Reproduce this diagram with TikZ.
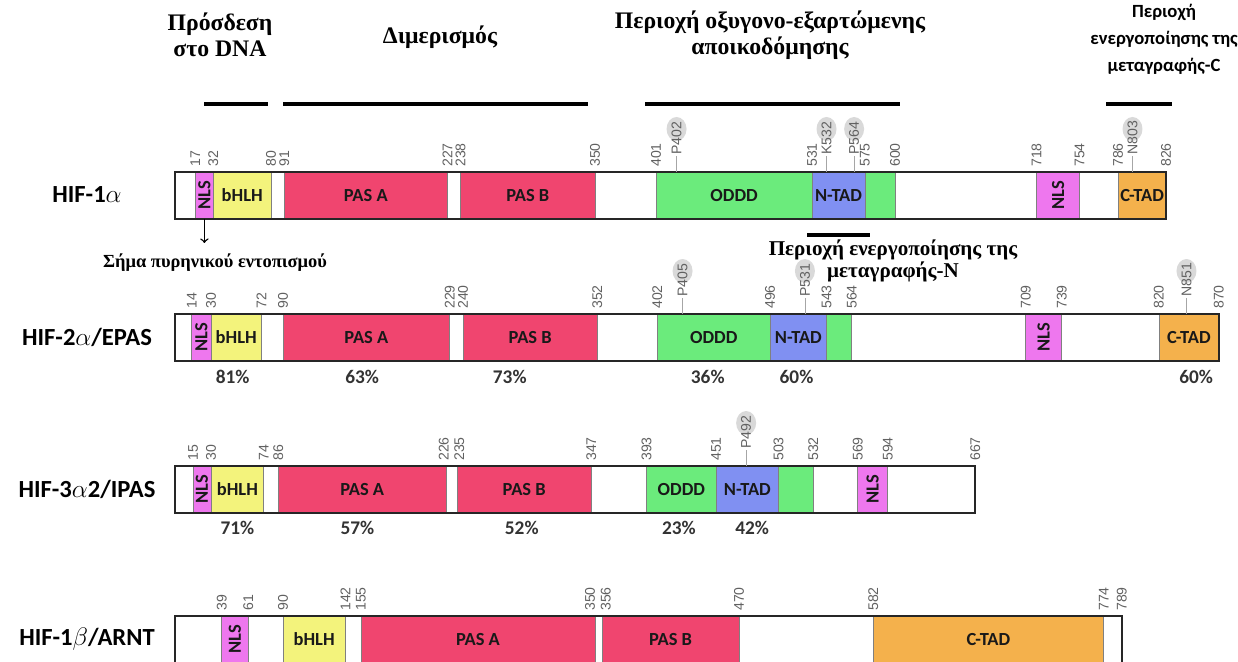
\documentclass[tikz,border=0pt]{standalone}
\usepackage{fontspec}
\setmainfont{Liberation Serif}
\newfontfamily\calib{Carlito}
\newfontfamily\arial{Liberation Sans}
\definecolor{pascol}{HTML}{F0456F}
\definecolor{bhlhcol}{HTML}{F3F37C}
\definecolor{nlscol}{HTML}{EE77EE}
\definecolor{oddcol}{HTML}{6BEB7C}
\definecolor{ntadcol}{HTML}{8090F2}
\definecolor{ctadcol}{HTML}{F4B14C}
\begin{document}
\begin{tikzpicture}[x=0.02cm,y=-0.02cm,
  prot/.style={draw=black!85,line width=1.3pt},
  dom/.style={draw=black!50,line width=0.4pt},
  dlab/.style={font=\calib\bfseries\fontsize{10.5}{12}\selectfont,text=black!90,inner sep=0pt},
  nlslab/.style={dlab,rotate=90},
  num/.style={font=\arial\fontsize{8}{9}\selectfont,text=black!62,rotate=90,anchor=west,inner sep=0.5pt},
  sitebg/.style={fill=black!15},
  siteline/.style={draw=black!35,line width=0.4pt},
  pct/.style={font=\calib\bfseries\fontsize{11}{12}\selectfont,text=black!80},
  plab/.style={font=\calib\bfseries\fontsize{14}{16}\selectfont},
  hdr/.style={font=\bfseries\fontsize{13.5}{14.5}\selectfont,align=center},
  bar/.style={line width=2pt}]
\useasboundingbox (0,0) rectangle (1238,662);

%headings
\node[hdr] (hdna) at (220,35) {Πρόσδεση\\στο DNA};
\node[hdr] (hdim) at (440,37) {Διμερισμός};
\node[hdr] (hodd) at (770,35) {Περιοχή οξυγονο-εξαρτώμενης\\αποικοδόμησης};
\node[font=\calib\bfseries\fontsize{10.6}{15.3}\selectfont,align=center] (hctad) at (1164,39) {Περιοχή\\ενεργοποίησης της\\μεταγραφής-C};
\node[font=\bfseries\fontsize{12}{12.5}\selectfont,align=center] (hntad) at (893,261) {Περιοχή ενεργοποίησης της\\μεταγραφής-N};
\node[font=\bfseries\fontsize{10.5}{13}\selectfont] (hsig) at (215,263) {Σήμα πυρηνικού εντοπισμού};

%bars
\draw[bar] (204,104) -- (268,104);
\draw[bar] (283,104) -- (588,104);
\draw[bar] (645,104) -- (900,104);
\draw[bar] (1106,104) -- (1172,104);
\draw[bar] (807,235) -- (870,235);

%protein names
\node[plab] (hif1a) at (87,195) {HIF-1$\alpha$};
\node[plab] (hif2a) at (87,337) {HIF-2$\alpha$/EPAS};
\node[plab] (hif3a) at (87,489) {HIF-3$\alpha$2/IPAS};
\node[plab] (hif1b) at (87,639) {HIF-1$\beta$/ARNT};

%HIF-1a
\begin{scope}[shift={(175,172)},x=0.024cm]
 \draw[dom,fill=nlscol] (17,0) rectangle (32,47);
 \draw[dom,fill=bhlhcol] (32,0) rectangle (80,47);
 \draw[dom,fill=pascol] (91,0) rectangle (227,47);
 \draw[dom,fill=pascol] (238,0) rectangle (350,47);
 \draw[dom,fill=oddcol] (401,0) rectangle (600,47);
 \draw[dom,fill=ntadcol] (531,0) rectangle (575,47);
 \draw[dom,fill=nlscol] (718,0) rectangle (754,47);
 \draw[dom,fill=ctadcol] (786,0) rectangle (826,47);
 \draw[prot] (0,0) rectangle (826,47);

 \node[nlslab] (a1nls) at (24.5,23.5) {NLS};
 \node[dlab] (a1bhlh) at (56,23.5) {bHLH};
 \node[dlab] (a1pasa) at (159,23.5) {PAS A};
 \node[dlab] (a1pasb) at (294,23.5) {PAS B};
 \node[dlab] (a1oddd) at (466,23.5) {ODDD};
 \node[dlab] (a1ntad) at (553,23.5) {N-TAD};
 \node[nlslab] (a1nls2) at (736,23.5) {NLS};
 \node[dlab] (a1ctad) at (806,23.5) {C-TAD};

 \node[num] (a1n17) at (17,-4) {17};
 \node[num] (a1n32) at (32,-4) {32};
 \node[num] (a1n80) at (80,-4) {80};
 \node[num] (a1n91) at (91,-4) {91};
 \node[num] (a1n227) at (227,-4) {227};
 \node[num] (a1n238) at (238,-4) {238};
 \node[num] (a1n350) at (350,-4) {350};
 \node[num] (a1n401) at (401,-4) {401};
 \node[num] (a1n531) at (531,-4) {531};
 \node[num] (a1n575) at (575,-4) {575};
 \node[num] (a1n600) at (600,-4) {600};
 \node[num] (a1n718) at (718,-4) {718};
 \node[num] (a1n754) at (754,-4) {754};
 \node[num] (a1n786) at (786,-4) {786};
 \node[num] (a1n826) at (826,-4) {826};

 \fill[sitebg] (418,-43) ellipse [x radius=0.2cm,y radius=0.24cm];
 \fill[sitebg] (543,-43) ellipse [x radius=0.2cm,y radius=0.24cm];
 \fill[sitebg] (566,-43) ellipse [x radius=0.2cm,y radius=0.24cm];
 \fill[sitebg] (798,-43) ellipse [x radius=0.2cm,y radius=0.24cm];
 \node[num] (a1p402) at (418,-16) {P402};
 \node[num] (a1k532) at (543,-16) {K532};
 \node[num] (a1p564) at (566,-16) {P564};
 \node[num] (a1n803) at (798,-16) {N803};
 \draw[siteline] (a1p402.west) -- ++(0,16);
 \draw[siteline] (a1k532.west) -- ++(0,16);
 \draw[siteline] (a1p564.west) -- ++(0,16);
 \draw[siteline] (a1n803.west) -- ++(0,16);

 \coordinate (a1nlsb) at (24.5,47);
 \coordinate (a1nlse) at (24.5,71);
 \draw[->,line width=0.8pt] (a1nlsb) -- (a1nlse);
\end{scope}

%HIF-2a
\begin{scope}[shift={(175,314)},x=0.024cm]
 \draw[dom,fill=nlscol] (14,0) rectangle (30,47);
 \draw[dom,fill=bhlhcol] (30,0) rectangle (72,47);
 \draw[dom,fill=pascol] (90,0) rectangle (229,47);
 \draw[dom,fill=pascol] (240,0) rectangle (352,47);
 \draw[dom,fill=oddcol] (402,0) rectangle (564,47);
 \draw[dom,fill=ntadcol] (496,0) rectangle (543,47);
 \draw[dom,fill=nlscol] (709,0) rectangle (739,47);
 \draw[dom,fill=ctadcol] (820,0) rectangle (870,47);
 \draw[prot] (0,0) rectangle (870,47);

 \node[nlslab] (a2nls) at (22,23.5) {NLS};
 \node[dlab] (a2bhlh) at (51,23.5) {bHLH};
 \node[dlab] (a2pasa) at (159.5,23.5) {PAS A};
 \node[dlab] (a2pasb) at (296,23.5) {PAS B};
 \node[dlab] (a2oddd) at (449,23.5) {ODDD};
 \node[dlab] (a2ntad) at (519.5,23.5) {N-TAD};
 \node[nlslab] (a2nls2) at (724,23.5) {NLS};
 \node[dlab] (a2ctad) at (845,23.5) {C-TAD};

 \node[num] (a2n14) at (14,-4) {14};
 \node[num] (a2n30) at (30,-4) {30};
 \node[num] (a2n72) at (72,-4) {72};
 \node[num] (a2n90) at (90,-4) {90};
 \node[num] (a2n229) at (229,-4) {229};
 \node[num] (a2n240) at (240,-4) {240};
 \node[num] (a2n352) at (352,-4) {352};
 \node[num] (a2n402) at (402,-4) {402};
 \node[num] (a2n496) at (496,-4) {496};
 \node[num] (a2n543) at (543,-4) {543};
 \node[num] (a2n564) at (564,-4) {564};
 \node[num] (a2n709) at (709,-4) {709};
 \node[num] (a2n739) at (739,-4) {739};
 \node[num] (a2n820) at (820,-4) {820};
 \node[num] (a2n870) at (870,-4) {870};

 \fill[sitebg] (423,-43) ellipse [x radius=0.2cm,y radius=0.24cm];
 \fill[sitebg] (525,-43) ellipse [x radius=0.2cm,y radius=0.24cm];
 \fill[sitebg] (843,-43) ellipse [x radius=0.2cm,y radius=0.24cm];
 \node[num] (a2p405) at (423,-16) {P405};
 \node[num] (a2p531) at (525,-16) {P531};
 \node[num] (a2n851) at (843,-16) {N851};
 \draw[siteline] (a2p405.west) -- ++(0,16);
 \draw[siteline] (a2p531.west) -- ++(0,16);
 \draw[siteline] (a2n851.west) -- ++(0,16);

 \node[pct] (a2c1) at (48,63) {81\%};
 \node[pct] (a2c2) at (156,63) {63\%};
 \node[pct] (a2c3) at (279,63) {73\%};
 \node[pct] (a2c4) at (444,63) {36\%};
 \node[pct] (a2c5) at (518,63) {60\%};
 \node[pct] (a2c6) at (851,63) {60\%};
\end{scope}

%HIF-3a
\begin{scope}[shift={(175,466)},x=0.024cm]
 \draw[dom,fill=nlscol] (15,0) rectangle (30,47);
 \draw[dom,fill=bhlhcol] (30,0) rectangle (74,47);
 \draw[dom,fill=pascol] (86,0) rectangle (226,47);
 \draw[dom,fill=pascol] (235,0) rectangle (347,47);
 \draw[dom,fill=oddcol] (393,0) rectangle (532,47);
 \draw[dom,fill=ntadcol] (451,0) rectangle (503,47);
 \draw[dom,fill=nlscol] (569,0) rectangle (594,47);
 \draw[prot] (0,0) rectangle (667,47);

 \node[nlslab] (a3nls) at (22.5,23.5) {NLS};
 \node[dlab] (a3bhlh) at (52,23.5) {bHLH};
 \node[dlab] (a3pasa) at (156,23.5) {PAS A};
 \node[dlab] (a3pasb) at (291,23.5) {PAS B};
 \node[dlab] (a3oddd) at (422,23.5) {ODDD};
 \node[dlab] (a3ntad) at (477,23.5) {N-TAD};
 \node[nlslab] (a3nls2) at (581.5,23.5) {NLS};

 \node[num] (a3n15) at (15,-4) {15};
 \node[num] (a3n30) at (30,-4) {30};
 \node[num] (a3n74) at (74,-4) {74};
 \node[num] (a3n86) at (86,-4) {86};
 \node[num] (a3n226) at (224,-4) {226};
 \node[num] (a3n235) at (237,-4) {235};
 \node[num] (a3n347) at (347,-4) {347};
 \node[num] (a3n393) at (393,-4) {393};
 \node[num] (a3n451) at (451,-4) {451};
 \node[num] (a3n503) at (503,-4) {503};
 \node[num] (a3n532) at (532,-4) {532};
 \node[num] (a3n569) at (569,-4) {569};
 \node[num] (a3n594) at (594,-4) {594};
 \node[num] (a3n667) at (667,-4) {667};

 \fill[sitebg] (476,-43) ellipse [x radius=0.2cm,y radius=0.24cm];
 \node[num] (a3p492) at (476,-16) {P492};
 \draw[siteline] (a3p492.west) -- ++(0,16);

 \node[pct] (a3c1) at (52,62) {71\%};
 \node[pct] (a3c2) at (152,62) {57\%};
 \node[pct] (a3c3) at (289,62) {52\%};
 \node[pct] (a3c4) at (420,62) {23\%};
 \node[pct] (a3c5) at (481,62) {42\%};
\end{scope}

%HIF-1b
\begin{scope}[shift={(175,616)},x=0.024cm]
 \draw[dom,fill=nlscol] (39,0) rectangle (61,48);
 \draw[dom,fill=bhlhcol] (90,0) rectangle (142,48);
 \draw[dom,fill=pascol] (155,0) rectangle (350,48);
 \draw[dom,fill=pascol] (356,0) rectangle (470,48);
 \draw[dom,fill=ctadcol] (582,0) rectangle (774,48);
 \draw[prot] (0,0) rectangle (789,48);

 \node[nlslab] (bnls) at (50,23.5) {NLS};
 \node[dlab] (bbhlh) at (116,23.5) {bHLH};
 \node[dlab] (bpasa) at (252.5,23.5) {PAS A};
 \node[dlab] (bpasb) at (413,23.5) {PAS B};
 \node[dlab] (bctad) at (678,23.5) {C-TAD};

 \node[num] (bn39) at (39,-4) {39};
 \node[num] (bn61) at (61,-4) {61};
 \node[num] (bn90) at (90,-4) {90};
 \node[num] (bn142) at (142,-4) {142};
 \node[num] (bn155) at (155,-4) {155};
 \node[num] (bn350) at (346,-4) {350};
 \node[num] (bn356) at (359,-4) {356};
 \node[num] (bn470) at (470,-4) {470};
 \node[num] (bn582) at (582,-4) {582};
 \node[num] (bn774) at (774,-4) {774};
 \node[num] (bn789) at (789,-4) {789};
\end{scope}
\end{tikzpicture}
\end{document}
